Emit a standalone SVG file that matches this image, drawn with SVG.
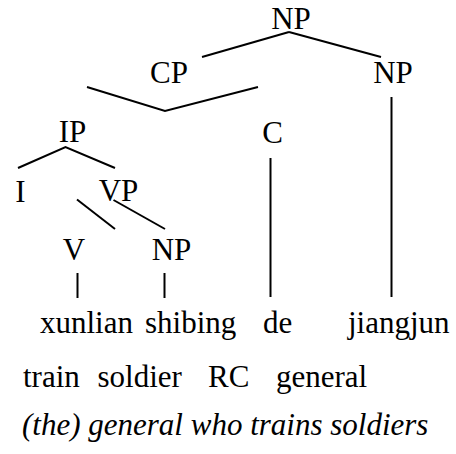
<svg xmlns="http://www.w3.org/2000/svg" width="456" height="454" viewBox="0 0 456 454">
  <style>
    text { font-size: 31px; fill: #000; }
    .lbl { text-anchor: middle; }
    .it { font-style: italic; }
    .edge { stroke: #000; stroke-width: 2; fill: none; stroke-linecap: butt; }
  </style>
  <rect width="456" height="454" fill="#fff"/>

  <!-- tree branches -->
  <g id="connectors">
    <line class="edge" x1="289" y1="32" x2="202" y2="57"/>
    <line class="edge" x1="289" y1="32" x2="381" y2="57"/>
    <polyline class="edge" points="87,87 165,111 258,87"/>
    <line class="edge" x1="391.5" y1="97" x2="391.5" y2="297"/>
    <line class="edge" x1="270.5" y1="158" x2="270.5" y2="297"/>
    <polyline class="edge" points="18,168 65.5,147 115,168"/>
    <line class="edge" x1="77" y1="199.5" x2="115" y2="229"/>
    <line class="edge" x1="113.5" y1="200" x2="165" y2="229"/>
    <line class="edge" x1="77.5" y1="273" x2="77.5" y2="298"/>
    <line class="edge" x1="164.5" y1="273" x2="164.5" y2="298"/>
  </g>

  <g font-family="'Liberation Serif', Tinos, 'Times New Roman', Times, 'DejaVu Serif', serif">
    <!-- category nodes -->
    <g id="np-root"><text class="lbl" x="291" y="29">NP</text></g>
    <g id="cp"><text class="lbl" x="169" y="83">CP</text></g>
    <g id="np-head"><text class="lbl" x="393" y="83">NP</text></g>
    <g id="ip"><text class="lbl" x="72.5" y="142">IP</text></g>
    <g id="c"><text class="lbl" x="272.5" y="143">C</text></g>
    <g id="i"><text class="lbl" x="20.5" y="201.5">I</text></g>
    <g id="vp"><text class="lbl" x="118.5" y="201">VP</text></g>
    <g id="v"><text class="lbl" x="74" y="260">V</text></g>
    <g id="np-obj"><text class="lbl" x="171.5" y="260">NP</text></g>

    <!-- words, glosses and translation -->
    <g id="words">
      <text y="333"><tspan x="40">xunlian</tspan><tspan x="145">shibing</tspan><tspan x="263">de</tspan><tspan x="348">jiangjun</tspan></text>
    </g>
    <g id="glosses">
      <text y="387"><tspan x="23">train</tspan><tspan x="97.5">soldier</tspan><tspan x="208">RC</tspan><tspan x="276">general</tspan></text>
    </g>
    <g id="translation">
      <text class="it" x="22" y="435">(the) general who trains soldiers</text>
    </g>
  </g>
</svg>
